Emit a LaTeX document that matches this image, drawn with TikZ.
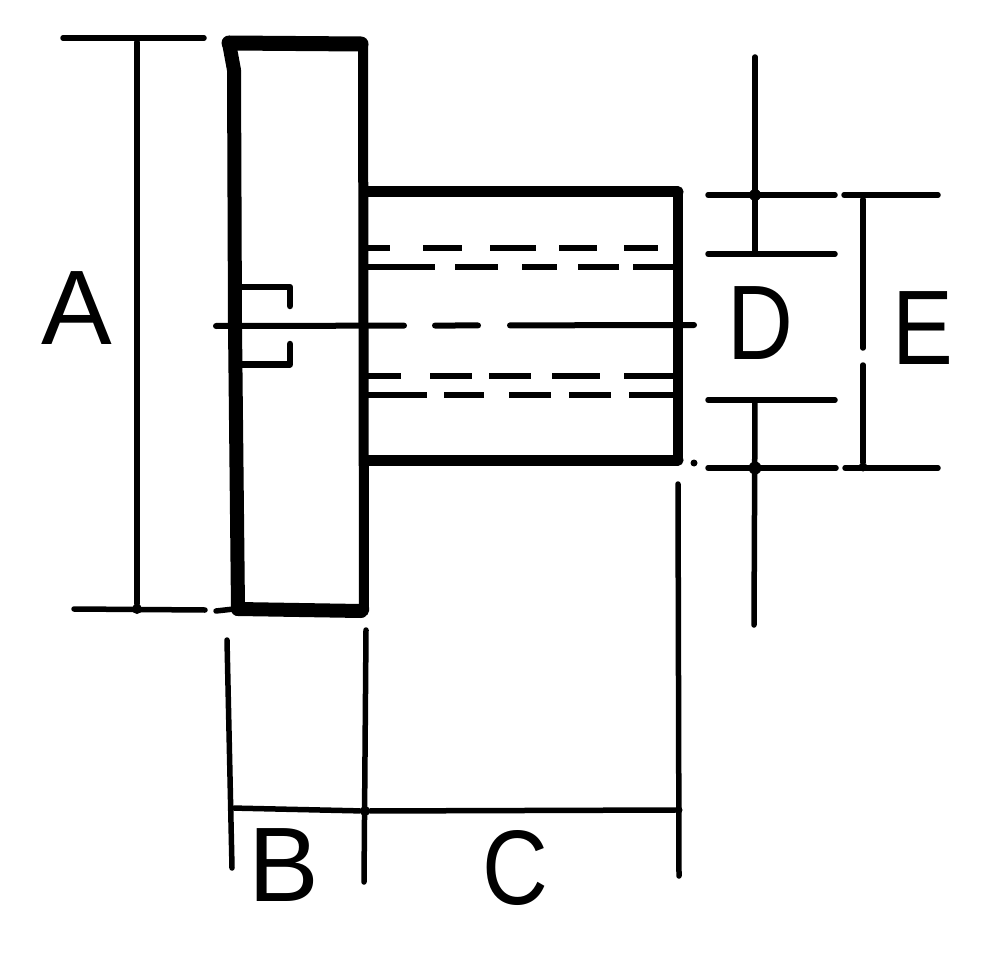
\documentclass[tikz,border=0pt]{standalone}
\usepackage{fontspec}
\setmainfont{Liberation Sans}
\newfontfamily\narrowfont[FakeStretch=0.86]{Liberation Sans}
\begin{document}
\begin{tikzpicture}[x=1pt,y=-1pt]
                \tikzstyle{outline} = [line join=round,line cap=round]
                \tikzstyle{dim} = [line width=5.5pt,line cap=round]
                \tikzstyle{hidden} = [line width=6.5pt]
                \tikzstyle{tick} = [circle,fill=black,inner sep=0pt,minimum size=10pt]
                \tikzstyle{letter} = [font=\fontsize{106}{106}\selectfont,inner sep=0pt]
                \tikzstyle{narrowletter} = [font=\narrowfont\fontsize{106}{106}\selectfont,inner sep=0pt]
                \useasboundingbox (0,0) rectangle (1000,957);
                % head
                \draw [outline,line width=15pt] (229,43) -- (361,44);
                \draw [outline,line width=14pt] (229,43) -- (234,70) -- (235,326) -- (238,609);
                \draw [outline,line width=14pt] (238,609) -- (361,611);
                \draw [outline,line width=10pt] (363,44) -- (364,611);
                \draw [outline,line width=6.5pt] (238,287) -- (290,287) -- (290,306);
                \draw [outline,line width=6.5pt] (290,344) -- (290,364.5) -- (238,364.5);
                % shank
                \draw [outline,line width=11pt] (366,192) -- (678,192);
                \draw [outline,line width=11pt] (366,460) -- (678,460);
                \draw [outline,line width=10pt] (678,192) -- (678,460);
                % hidden lines
                \draw [hidden,dash pattern=on 24pt off 33pt on 39pt off 28pt on 46pt off 23pt on 38pt off 27pt on 34pt off 20pt] (366,248) -- (673,248);
                \draw [hidden,dash pattern=on 69pt off 20pt on 43pt off 24pt on 35pt off 21pt on 41pt off 14pt on 40pt off 9pt] (366,267) -- (673,267);
                \draw [hidden,dash pattern=on 35pt off 29pt on 42pt off 17pt on 42pt off 21pt on 48pt off 24pt on 49pt off 9pt] (366,376) -- (673,376);
                \draw [hidden,dash pattern=on 61pt off 17pt on 40pt off 25pt on 42pt off 18pt on 42pt off 18pt on 44pt off 9pt] (366,395) -- (673,395);
                % centre line
                \coordinate (cl) at (216,326);
                \coordinate (cr) at (694,325);
                \draw [line width=6pt,line cap=round,dash pattern=on 188pt off 31pt on 43pt off 32pt on 190pt off 20pt] (cl) -- (cr);
                % dimension A
                \coordinate (a1) at (63,38);
                \coordinate (a2) at (204,38);
                \coordinate (a3) at (74,609);
                \coordinate (a4) at (205,610);
                \coordinate (a5) at (216,611);
                \coordinate (a6) at (234,609);
                \node (at) [tick,minimum size=6pt] at (137,39) {};
                \node (ab) [tick] at (137,609) {};
                \draw [dim] (a1) -- (a2);
                \draw [dim] (a3) -- (a4);
                \draw [dim] (a5) -- (a6);
                \draw [dim] (at) -- (ab);
                \node (A) [letter] at (76.5,308) {A};
                % dimensions B and C
                \coordinate (b1) at (227,640);
                \coordinate (b2) at (232,868);
                \coordinate (m1) at (366,630);
                \coordinate (m2) at (364,882);
                \coordinate (r1) at (678,484);
                \coordinate (r2) at (679,876);
                \node (bl) [tick,minimum size=6pt] at (231,808) {};
                \node (bm) [tick] at (365,811) {};
                \node (br) [tick,minimum size=7pt] at (679,810) {};
                \draw [dim] (b1) -- (b2);
                \draw [dim] (m1) -- (m2);
                \draw [dim] (r1) -- (r2);
                \draw [dim] (bl) -- (bm);
                \draw [dim] (bm) -- (br);
                \node (B) [letter] at (283.5,865.5) {B};
                \node (C) [narrowletter] at (515,868.5) {C};
                % dimension D
                \coordinate (d1) at (755,57);
                \coordinate (d2) at (755,253);
                \coordinate (d3) at (755,400);
                \coordinate (d4) at (754,625);
                \coordinate (t1) at (708,195);
                \coordinate (t2) at (835,195);
                \coordinate (t3) at (708,254);
                \coordinate (t4) at (835,254);
                \coordinate (t5) at (708,400);
                \coordinate (t6) at (835,400);
                \coordinate (t7) at (708,468);
                \coordinate (t8) at (836,468);
                \node (dt) [tick,minimum size=12pt] at (755,195) {};
                \node (db) [tick,minimum size=13pt] at (755,468) {};
                \draw [dim] (d1) -- (d2);
                \draw [dim] (d3) -- (d4);
                \draw [dim] (t1) -- (t2);
                \draw [dim] (t3) -- (t4);
                \draw [dim] (t5) -- (t6);
                \draw [dim] (t7) -- (t8);
                \node (D) [narrowletter] at (760,323.5) {D};
                % dimension E
                \coordinate (e1) at (844,195);
                \coordinate (e2) at (938,195);
                \coordinate (e3) at (845,468);
                \coordinate (e4) at (938,468);
                \coordinate (e5) at (863,348);
                \coordinate (e6) at (863,365);
                \node (et) [tick,minimum size=7pt] at (863,196) {};
                \node (eb) [tick,minimum size=9pt] at (863,467) {};
                \draw [dim] (e1) -- (e2);
                \draw [dim] (e3) -- (e4);
                \draw [dim] (et) -- (e5);
                \draw [dim] (e6) -- (eb);
                \node (E) [narrowletter] at (923,328.5) {E};
                \node (dot) [tick,minimum size=7pt] at (694,463) {};
            \end{tikzpicture}
\end{document}
